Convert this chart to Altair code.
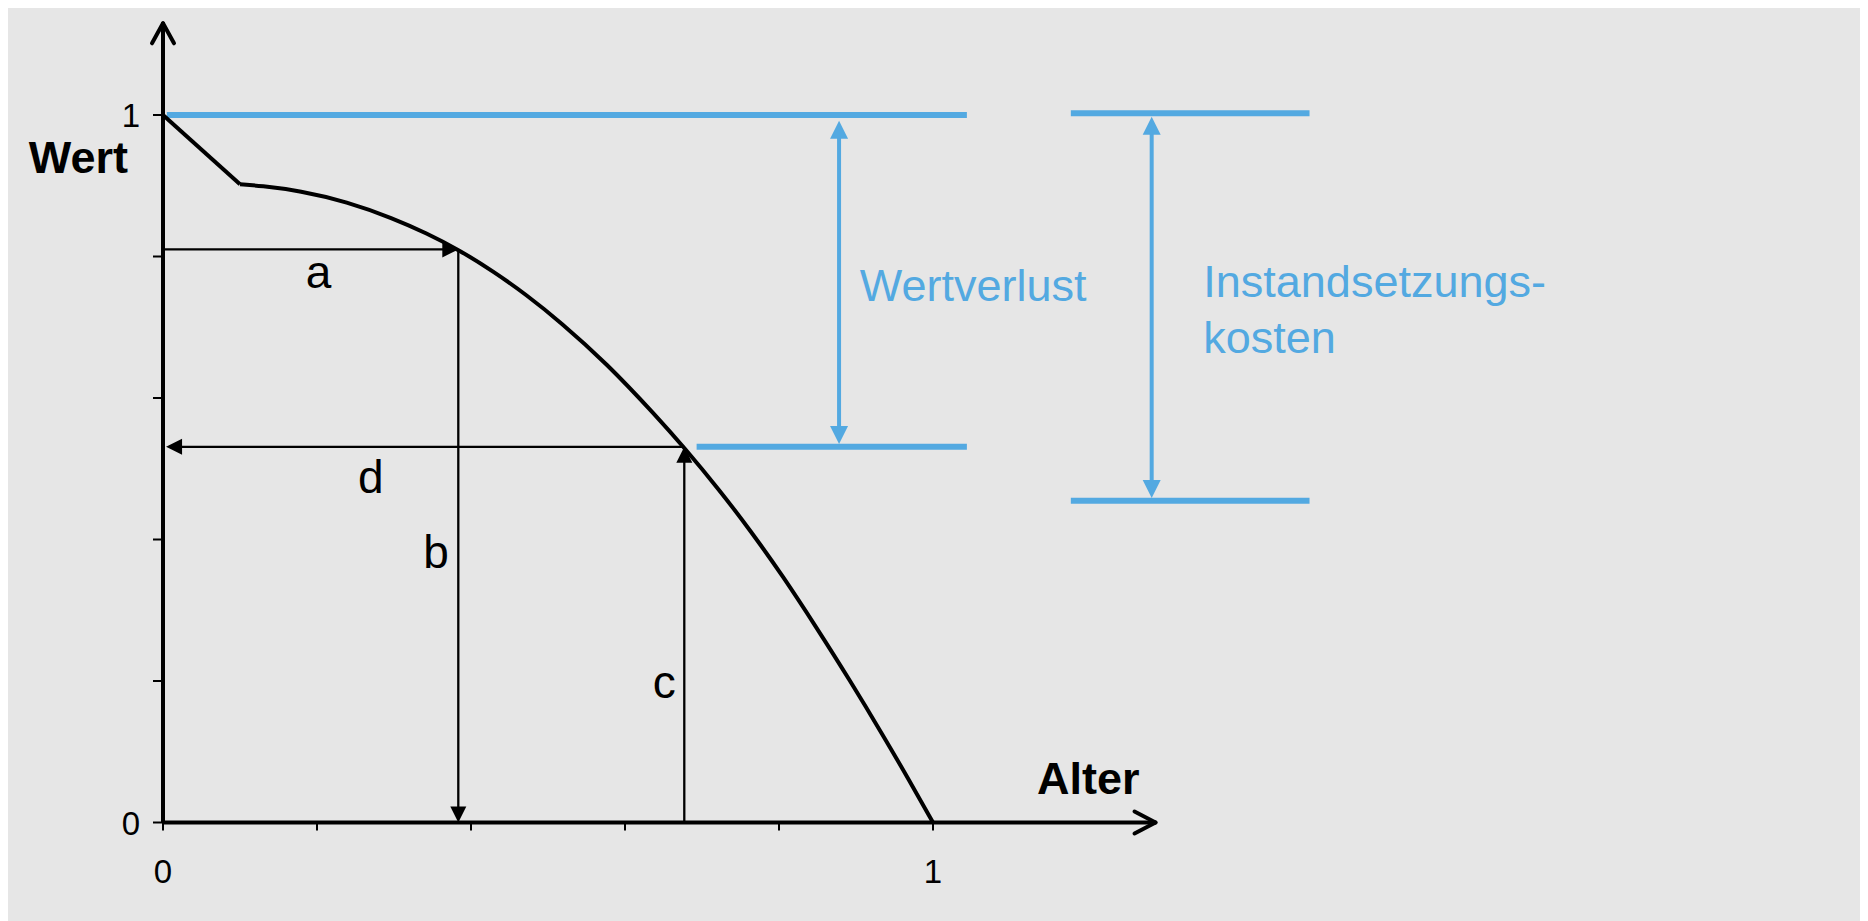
import altair as alt
import pandas as pd

# ---------------- data ----------------
# value curve: age (0..1) -> value (0..1)
kink_x = [0.0, 0.1]
kink_y = [1.0, 0.902]
curve_x = [0.1, 0.126, 0.178, 0.2386, 0.299, 0.3425, 0.3835, 0.429, 0.4723, 0.5156, 0.5762,
           0.641, 0.676, 0.7234, 0.7623, 0.8056, 0.849, 0.892, 0.9355, 0.970, 1.0]
curve_y = [0.902, 0.900, 0.893, 0.8775, 0.854, 0.8328, 0.81, 0.779, 0.7456, 0.7079, 0.649,
           0.574, 0.531, 0.469, 0.4134, 0.3474, 0.275, 0.201, 0.1225, 0.058, 0.0]

tick_values = [0.0, 0.2, 0.4, 0.6, 0.8, 1.0]
tick_label_values = [0.0, 1.0]
tick_label_texts = ["0", "1"]

# reading points on the curve
a_age, a_value = 0.3835, 0.81     # arrows a / b
c_age, c_value = 0.677, 0.531     # arrows c / d

# blue brackets
loss_top, loss_bottom = 1.0, 0.531
loss_x_left, loss_x_right, loss_arrow_x = 0.693, 1.044, 0.878
loss_tip_top, loss_tip_bottom = 0.992, 0.535
repair_top, repair_bottom = 1.0024, 0.4548
repair_x_left, repair_x_right, repair_arrow_x = 1.179, 1.489, 1.284
repair_tip_top, repair_tip_bottom = 0.9976, 0.4587

letter_texts = ["a", "d", "b", "c"]
letter_x = [0.202, 0.270, 0.3545, 0.651]
letter_y = [0.755, 0.4653, 0.3593, 0.1755]

blue_texts = ["Wertverlust", "Instandsetzungs-", "kosten"]
blue_x = [0.905, 1.351, 1.351]
blue_y = [0.7375, 0.743, 0.6636]

axis_title_texts = ["Wert", "Alter"]

# ---------------- layout ----------------
W, H = 1852, 913
X0_PX, X1_PX = 155.0, 925.0     # pixel of age 0 / 1 inside chart
Y0_PX, Y1_PX = 814.5, 107.0     # pixel of value 0 / 1 inside chart
ppx = X1_PX - X0_PX
ppy = Y0_PX - Y1_PX
xs = alt.Scale(domain=[-X0_PX / ppx, (W - X0_PX) / ppx], nice=False, zero=False)
ys = alt.Scale(domain=[-(H - Y0_PX) / ppy, Y0_PX / ppy], nice=False, zero=False)

BLUE = "#53a9e1"
FONT = "Liberation Sans"
Y_TOP = 1.1296
X_RIGHT = 1.289
GAP = 0.008


def X(f):
    return alt.X(f, type="quantitative", scale=xs, axis=None)


def Y(f):
    return alt.Y(f, type="quantitative", scale=ys, axis=None)


def segs(rows):
    return pd.DataFrame(rows, columns=["x", "y", "x2", "y2"])


def seg_layer(df, color, width, **kw):
    return alt.Chart(df).mark_rule(color=color, strokeWidth=width, **kw).encode(
        x=X("x"), y=Y("y"), x2="x2", y2="y2")


# axes
axes = seg_layer(segs([[0, 0, 0, Y_TOP], [0, 0, X_RIGHT, 0]]), "black", 4)
up_tip = segs([[0, Y_TOP, 0, Y_TOP]])
right_tip = segs([[X_RIGHT, 0, X_RIGHT, 0]])
chevrons = [
    seg_layer(up_tip, "black", 4, x2Offset=-11, y2Offset=20, strokeCap="round"),
    seg_layer(up_tip, "black", 4, x2Offset=11, y2Offset=20, strokeCap="round"),
    seg_layer(right_tip, "black", 4, x2Offset=-21, y2Offset=-11, strokeCap="round"),
    seg_layer(right_tip, "black", 4, x2Offset=-21, y2Offset=11, strokeCap="round"),
]

# ticks
tdf = pd.DataFrame({"v": tick_values, "z": [0.0] * len(tick_values)})
yticks = alt.Chart(tdf).mark_rule(color="black", strokeWidth=2, x2Offset=-10).encode(
    x=X("z"), x2="z", y=Y("v"))
xticks = alt.Chart(tdf).mark_rule(color="black", strokeWidth=2, y2Offset=8).encode(
    x=X("v"), y=Y("z"), y2="z")

ldf = pd.DataFrame({"v": tick_label_values, "t": tick_label_texts, "z": [0.0, 0.0]})
ylabels = alt.Chart(ldf).mark_text(align="right", baseline="alphabetic", dx=-23, dy=12,
                                   font=FONT, fontSize=33, color="black").encode(
    x=X("z"), y=Y("v"), text="t")
xlabels = alt.Chart(ldf).mark_text(align="center", baseline="alphabetic", dy=60,
                                   font=FONT, fontSize=33, color="black").encode(
    x=X("v"), y=Y("z"), text="t")

# axis titles
wert = alt.Chart(pd.DataFrame({"x": [0.0], "y": [0.9176], "t": [axis_title_texts[0]]})).mark_text(
    align="right", baseline="alphabetic", dx=-35, font=FONT, fontSize=45,
    fontWeight="bold", color="black").encode(x=X("x"), y=Y("y"), text="t")
alter = alt.Chart(pd.DataFrame({"x": [1.135], "y": [0.0399], "t": [axis_title_texts[1]]})).mark_text(
    align="left", baseline="alphabetic", font=FONT, fontSize=45,
    fontWeight="bold", color="black").encode(x=X("x"), y=Y("y"), text="t")

# curve
kink = alt.Chart(pd.DataFrame({"x": kink_x, "y": kink_y})).mark_line(
    color="black", strokeWidth=4, strokeJoin="miter").encode(x=X("x"), y=Y("y"))
curve = alt.Chart(pd.DataFrame({"x": curve_x, "y": curve_y})).mark_line(
    color="black", strokeWidth=4, interpolate="basis").encode(x=X("x"), y=Y("y"))

# black reading arrows
black_lines = seg_layer(segs([
    [0, a_value, a_age - GAP, a_value],
    [a_age, a_value, a_age, GAP],
    [c_age, c_value, GAP, c_value],
    [c_age, 0, c_age, c_value - GAP],
]), "black", 2.3)

heads_paths = ["M 0 0 L -1 -0.5 L -1 0.5 Z", "M 0 0 L 1 -0.5 L 1 0.5 Z",
               "M 0 0 L -0.5 1 L 0.5 1 Z", "M 0 0 L -0.5 -1 L 0.5 -1 Z"]
heads_dirs = ["right", "left", "up", "down"]
head_scale = alt.Scale(domain=heads_dirs, range=heads_paths)

bh = pd.DataFrame({"x": [a_age, a_age, 0.004, c_age],
                   "y": [a_value, 0.0, c_value, c_value],
                   "dir": ["right", "down", "left", "up"]})
black_heads = alt.Chart(bh).mark_point(filled=True, color="black", opacity=1,
                                       size=1024, strokeWidth=0).encode(
    x=X("x"), y=Y("y"), shape=alt.Shape("dir:N", legend=None, scale=head_scale))

# blue brackets
blue_lines = seg_layer(segs([
    [0.005, loss_top, loss_x_right, loss_top],
    [loss_x_left, loss_bottom, loss_x_right, loss_bottom],
    [repair_x_left, repair_top, repair_x_right, repair_top],
    [repair_x_left, repair_bottom, repair_x_right, repair_bottom],
]), BLUE, 6)
blue_stems = seg_layer(segs([
    [loss_arrow_x, loss_tip_top - GAP, loss_arrow_x, loss_tip_bottom + GAP],
    [repair_arrow_x, repair_tip_top - GAP, repair_arrow_x, repair_tip_bottom + GAP],
]), BLUE, 4)
blh = pd.DataFrame({"x": [loss_arrow_x, loss_arrow_x, repair_arrow_x, repair_arrow_x],
                    "y": [loss_tip_top, loss_tip_bottom, repair_tip_top, repair_tip_bottom],
                    "dir": ["up", "down", "up", "down"]})
blue_heads = alt.Chart(blh).mark_point(filled=True, color=BLUE, opacity=1,
                                       size=1296, strokeWidth=0).encode(
    x=X("x"), y=Y("y"), shape=alt.Shape("dir:N", legend=None, scale=head_scale))

# texts
letters = alt.Chart(pd.DataFrame({"x": letter_x, "y": letter_y, "t": letter_texts})).mark_text(
    align="center", baseline="alphabetic", font=FONT, fontSize=46, color="black").encode(
    x=X("x"), y=Y("y"), text="t")
blue_text = alt.Chart(pd.DataFrame({"x": blue_x, "y": blue_y, "t": blue_texts})).mark_text(
    align="left", baseline="alphabetic", font=FONT, fontSize=45, color=BLUE).encode(
    x=X("x"), y=Y("y"), text="t")

chart = alt.layer(
    blue_lines, blue_stems, blue_heads,
    black_lines, black_heads,
    yticks, xticks, axes, *chevrons,
    kink, curve,
    ylabels, xlabels, wert, alter, letters, blue_text,
).properties(
    width=W, height=H, padding=0,
    autosize=alt.AutoSizeParams(type="none"),
    background="#e6e6e6",
).configure_view(stroke=None)

chart.save("out.html", embed_options={"renderer": "svg", "actions": False})
